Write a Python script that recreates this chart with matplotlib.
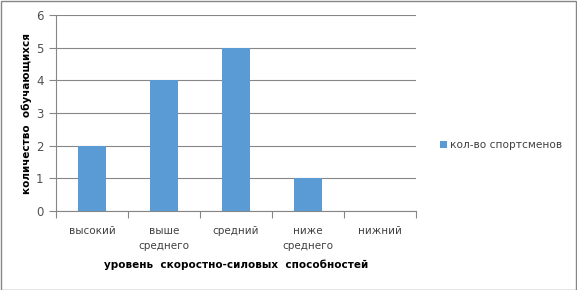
import matplotlib
matplotlib.use("Agg")
import matplotlib.pyplot as plt
from matplotlib.patches import Rectangle

categories = ["высокий", "выше\nсреднего", "средний", "ниже\nсреднего", "нижний"]
values = [2, 4, 5, 1, 0]
series_name = "кол-во спортсменов"

plt.rcParams['font.family'] = ['DejaVu Sans']

fig = plt.figure(figsize=(5.77, 2.9), dpi=100)
fig.patches.append(Rectangle((0.5/577, 0.5/290), 1 - 1.5/577, 1 - 1.5/290, transform=fig.transFigure,
                             fill=False, edgecolor='#868686', linewidth=1))
ax = fig.add_axes([56/577, 79/290, 360/577, 196/290])

x = list(range(len(categories)))
ax.bar(x, values, width=0.4, color='#5B9BD5', label=series_name, zorder=3)
ax.set_xlim(-0.5, len(categories) - 0.5)
ax.set_ylim(0, 6)
ax.set_yticks(range(0, 7))
ax.yaxis.grid(True, color='#868686', linewidth=0.8, zorder=0)
for s in ['top', 'right']:
    ax.spines[s].set_visible(False)
for s in ['left', 'bottom']:
    ax.spines[s].set_color('#868686')
ax.set_xticks([i - 0.5 for i in range(len(categories) + 1)], minor=False)
ax.set_xticklabels([])
ax.set_xticks(x, minor=True)
ax.set_xticklabels(categories, minor=True, fontsize=7.5, color='#404040', linespacing=1.55)
ax.tick_params(axis='x', which='minor', length=0, pad=11)
ax.tick_params(axis='x', which='major', length=5, color='#868686')
ax.tick_params(axis='y', length=5, color='#868686', labelsize=8.5, labelcolor='#505050', pad=4)

ax.set_xlabel("уровень  скоростно-силовых  способностей", fontsize=7.5, fontweight='bold', labelpad=6)
ax.set_ylabel("количество  обучающихся", fontsize=7.5, fontweight='bold', labelpad=3)

ax.legend(loc='center left', bbox_to_anchor=(430/577, 145/290), bbox_transform=fig.transFigure,
          frameon=False, fontsize=7.6, handlelength=0.7, handleheight=0.7, handletextpad=0.3,
          labelcolor='#404040')

fig.savefig("out.png", dpi=100)
